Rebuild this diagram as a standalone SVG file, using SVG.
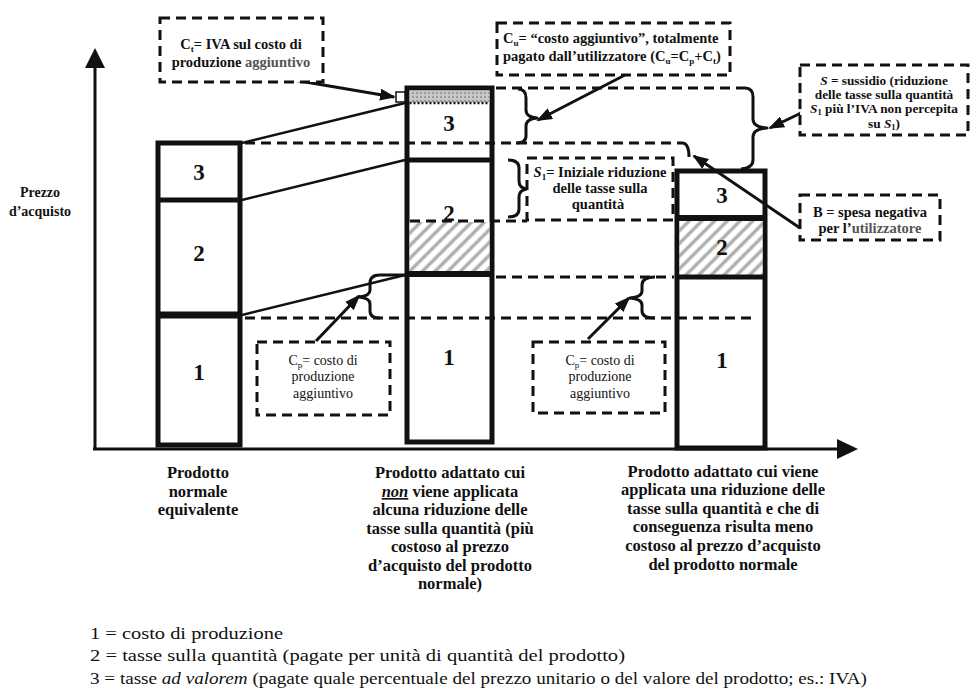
<svg xmlns="http://www.w3.org/2000/svg" width="976" height="690" viewBox="0 0 976 690" font-family="'Liberation Serif', 'Times New Roman', serif">
  <defs>
    <style>
      text { font-family: "Liberation Serif", "Times New Roman", serif; fill: #111; }
      .bar { fill: #fff; stroke: #111; stroke-width: 5; }
      .div { stroke: #111; }
      .num { font-size: 23px; font-weight: bold; text-anchor: middle; }
      .cap { font-size: 16.5px; font-weight: bold; text-anchor: middle; }
      .box { fill: #fff; stroke: #111; stroke-width: 3; stroke-dasharray: 10 6; }
      .bt { font-size: 14.5px; font-weight: bold; }
      .bs { font-size: 13.3px; font-weight: bold; text-anchor: middle; }
      .bn { font-size: 14px; text-anchor: middle; }
      .dl { fill: none; stroke: #111; stroke-width: 3; stroke-dasharray: 10 6; }
      .ln { fill: none; stroke: #111; stroke-width: 2.5; }
      .br { fill: none; stroke: #111; stroke-width: 3; stroke-linejoin: round; }
      .ar { fill: none; stroke: #111; stroke-width: 3; marker-end: url(#ah); }
      .leg { font-size: 16.5px; }
    </style>
    <marker id="ah" markerWidth="16" markerHeight="12" refX="14" refY="6" orient="auto" markerUnits="userSpaceOnUse">
      <path d="M0,0 L16,6 L0,12 Z" fill="#111"/>
    </marker>
    <pattern id="hatch" patternUnits="userSpaceOnUse" width="9" height="9" patternTransform="rotate(45)">
      <rect width="9" height="9" fill="#fff"/>
      <line x1="4.5" y1="0" x2="4.5" y2="9" stroke="#b0b0b0" stroke-width="3.5"/>
    </pattern>
    <pattern id="stip" patternUnits="userSpaceOnUse" width="4" height="4">
      <rect width="4" height="4" fill="#c8c8c8"/>
      <rect x="0" y="0" width="2" height="2" fill="#9a9a9a"/>
    </pattern>
  </defs>

  <rect width="976" height="690" fill="#fff"/>

  <!-- axes -->
  <g id="axes">
    <line x1="95" y1="449" x2="95" y2="64" stroke="#111" stroke-width="3"/>
    <path d="M95,48 L85,68 L105,68 Z" fill="#111"/>
    <line x1="93" y1="449" x2="840" y2="449" stroke="#111" stroke-width="3"/>
    <path d="M858,449 L837,439 L837,459 Z" fill="#111"/>
    <text x="40" y="197" font-size="14" font-weight="bold" text-anchor="middle">Prezzo</text>
    <text x="40" y="216" font-size="14" font-weight="bold" text-anchor="middle">d’acquisto</text>
  </g>

  <!-- normal product bar -->
  <g id="bar-normale">
    <rect class="bar" x="158" y="143" width="82" height="302"/>
    <line class="div" x1="158" y1="200" x2="240" y2="200" stroke-width="5"/>
    <line class="div" x1="158" y1="315" x2="240" y2="315" stroke-width="7"/>
    <text class="num" x="199" y="180">3</text>
    <text class="num" x="199" y="261">2</text>
    <text class="num" x="199" y="380">1</text>
  </g>

  <!-- adapted product, no reduction -->
  <g id="bar-adattato">
    <rect class="bar" x="407" y="88" width="85" height="354"/>
    <rect x="409.5" y="90.5" width="80" height="12" fill="url(#stip)"/>
    <line x1="409.5" y1="103" x2="489.5" y2="103" stroke="#111" stroke-width="2.5" stroke-dasharray="2 2"/>
    <rect x="396" y="92" width="9" height="10" fill="#fff" stroke="#111" stroke-width="1.5"/>
    <line class="div" x1="407" y1="160" x2="492" y2="160" stroke-width="5"/>
    <rect x="409.5" y="222" width="80" height="50" fill="url(#hatch)"/>
    <line class="div" x1="407" y1="274" x2="492" y2="274" stroke-width="6"/>
    <text class="num" x="449" y="131">3</text>
    <text class="num" x="449" y="221">2</text>
    <text class="num" x="449" y="365">1</text>
  </g>

  <!-- adapted product, with reduction -->
  <g id="bar-ridotto">
    <rect class="bar" x="677" y="171" width="88" height="277"/>
    <rect x="679.5" y="220" width="83" height="55" fill="url(#hatch)"/>
    <line class="div" x1="677" y1="218" x2="765" y2="218" stroke-width="6"/>
    <line class="div" x1="677" y1="277" x2="765" y2="277" stroke-width="5"/>
    <text class="num" x="722" y="203">3</text>
    <text class="num" x="722" y="255">2</text>
    <text class="num" x="722" y="368">1</text>
  </g>

  <!-- connectors: solid links, dashed levels, braces, arrows -->
  <g id="connectors">
    <line class="ln" x1="242" y1="143" x2="405" y2="103"/>
    <line class="ln" x1="242" y1="200" x2="405" y2="160"/>
    <line class="ln" x1="242" y1="315" x2="405" y2="275"/>

    <line class="dl" x1="245" y1="143" x2="683" y2="143"/>
    <path class="br" d="M683,143 Q689,144 689,157"/>
    <line class="dl" x1="496" y1="88" x2="745" y2="88"/>
    <line class="dl" x1="410" y1="221" x2="527" y2="221"/>
    <line class="dl" x1="496" y1="277" x2="674" y2="277"/>
    <line class="dl" x1="245" y1="318" x2="755" y2="318"/>

    <!-- Cu brace -->
    <path class="br" d="M518,89 Q526,89 526,98 L526,110 Q526,117 537,118 Q526,119 526,126 L526,136 Q526,143 516,143"/>
    <!-- S brace -->
    <path class="br" d="M745,88 Q753,88 753,97 L753,119 Q753,127 767,128 Q753,129 753,137 L753,160 Q753,168 741,169"/>
    <!-- S1 brace -->
    <path class="br" d="M508,160 Q519,160 519,168 L519,181 Q519,188 527,189 Q519,190 519,197 L519,209 Q519,217 508,217"/>
    <!-- left Cp brace -->
    <path class="br" d="M405,275 L380,275 Q370,275 370,283 L370,290 Q370,296 359,297 Q370,298 370,304 L370,311 Q370,318 380,318"/>
    <!-- right Cp brace -->
    <path class="br" d="M655,277 Q642,277 642,285 L642,291 Q642,297 630,298 Q642,299 642,305 L642,311 Q642,318 655,318"/>

    <line class="ar" x1="282" y1="78" x2="394" y2="97"/>
    <line class="ar" x1="625" y1="75" x2="538" y2="120"/>
    <line class="ar" x1="803" y1="112" x2="770" y2="128"/>
    <line class="ar" x1="800" y1="228" x2="694" y2="156"/>
    <line class="ar" x1="316" y1="341" x2="359" y2="296"/>
    <line class="ar" x1="588" y1="339" x2="629" y2="298"/>
  </g>

  <!-- label boxes -->
  <g id="box-ct">
    <rect class="box" x="160" y="18" width="163" height="64"/>
    <text class="bt" x="241" y="49" text-anchor="middle">C<tspan font-size="9" dy="3">t</tspan><tspan dy="-3">= IVA sul costo di</tspan></text>
    <text class="bt" x="241" y="67" text-anchor="middle">produzione <tspan fill="#555">aggiuntivo</tspan></text>
  </g>

  <g id="box-cu">
    <rect class="box" x="497" y="23" width="233" height="52"/>
    <text class="bt" x="503" y="43">C<tspan font-size="9" dy="3">u</tspan><tspan dy="-3">= “costo aggiuntivo”, totalmente</tspan></text>
    <text class="bt" x="503" y="61">pagato dall’utilizzatore (C<tspan font-size="9" dy="3">u</tspan><tspan dy="-3">=C</tspan><tspan font-size="9" dy="3">p</tspan><tspan dy="-3">+C</tspan><tspan font-size="9" dy="3">t</tspan><tspan dy="-3">)</tspan></text>
  </g>

  <g id="box-s">
    <rect class="box" x="800" y="65" width="168" height="70"/>
    <text class="bs" x="884" y="85"><tspan font-style="italic">S</tspan> = sussidio (riduzione</text>
    <text class="bs" x="884" y="99">delle tasse sulla quantità</text>
    <text class="bs" x="884" y="113"><tspan font-style="italic">S</tspan><tspan font-size="8.5" dy="2">1</tspan><tspan dy="-2"> più l’IVA non percepita</tspan></text>
    <text class="bs" x="884" y="128">su <tspan font-style="italic">S</tspan><tspan font-size="8.5" dy="2">1</tspan><tspan dy="-2">)</tspan></text>
  </g>

  <g id="box-b">
    <rect class="box" x="800" y="195" width="140" height="45"/>
    <text class="bt" x="870" y="217" text-anchor="middle">B = spesa negativa</text>
    <text class="bt" x="870" y="233" text-anchor="middle">per l’<tspan fill="#555">utilizzatore</tspan></text>
  </g>

  <g id="box-s1">
    <rect class="box" x="527" y="158" width="146" height="62"/>
    <text class="bt" x="600" y="177" text-anchor="middle" fill="#333"><tspan font-style="italic">S</tspan><tspan font-size="9" dy="3">1</tspan><tspan dy="-3">= Iniziale riduzione</tspan></text>
    <text class="bt" x="600" y="193" text-anchor="middle" fill="#333">delle tasse sulla</text>
    <text class="bt" x="598" y="209" text-anchor="middle" fill="#333">quantità</text>
  </g>

  <g id="box-cp-1">
    <rect class="box" x="257" y="342" width="133" height="73"/>
    <text class="bn" x="323" y="365">C<tspan font-size="9" dy="3">p</tspan><tspan dy="-3">= costo di</tspan></text>
    <text class="bn" x="323" y="381">produzione</text>
    <text class="bn" x="323" y="398">aggiuntivo</text>
  </g>

  <g id="box-cp-2">
    <rect class="box" x="533" y="342" width="132" height="71"/>
    <text class="bn" x="600" y="365">C<tspan font-size="9" dy="3">p</tspan><tspan dy="-3">= costo di</tspan></text>
    <text class="bn" x="600" y="381">produzione</text>
    <text class="bn" x="600" y="398">aggiuntivo</text>
  </g>

  <!-- captions under the bars -->
  <g id="cap-normale">
    <text class="cap" x="198" y="478">Prodotto</text>
    <text class="cap" x="198" y="497">normale</text>
    <text class="cap" x="198" y="515">equivalente</text>
  </g>
  <g id="cap-adattato">
    <text class="cap" x="450" y="478">Prodotto adattato cui</text>
    <text class="cap" x="450" y="497"><tspan font-style="italic" text-decoration="underline">non</tspan> viene applicata</text>
    <text class="cap" x="450" y="515">alcuna riduzione delle</text>
    <text class="cap" x="450" y="534">tasse sulla quantità (più</text>
    <text class="cap" x="450" y="552">costoso al prezzo</text>
    <text class="cap" x="450" y="571">d’acquisto del prodotto</text>
    <text class="cap" x="450" y="589">normale)</text>
  </g>
  <g id="cap-ridotto">
    <text class="cap" x="723" y="477">Prodotto adattato cui viene</text>
    <text class="cap" x="723" y="495">applicata una riduzione delle</text>
    <text class="cap" x="723" y="514">tasse sulla quantità e che di</text>
    <text class="cap" x="723" y="532">conseguenza risulta meno</text>
    <text class="cap" x="723" y="551">costoso al prezzo d’acquisto</text>
    <text class="cap" x="723" y="570">del prodotto normale</text>
  </g>

  <!-- legend -->
  <g id="legend">
    <text class="leg" x="90" y="639" textLength="193" lengthAdjust="spacingAndGlyphs">1 = costo di produzione</text>
    <text class="leg" x="90" y="661" textLength="535" lengthAdjust="spacingAndGlyphs">2 = tasse sulla quantità (pagate per unità di quantità del prodotto)</text>
    <text class="leg" x="90" y="684" textLength="777" lengthAdjust="spacingAndGlyphs">3 = tasse <tspan font-style="italic">ad valorem</tspan> (pagate quale percentuale del prezzo unitario o del valore del prodotto; es.: IVA)</text>
  </g>
</svg>
